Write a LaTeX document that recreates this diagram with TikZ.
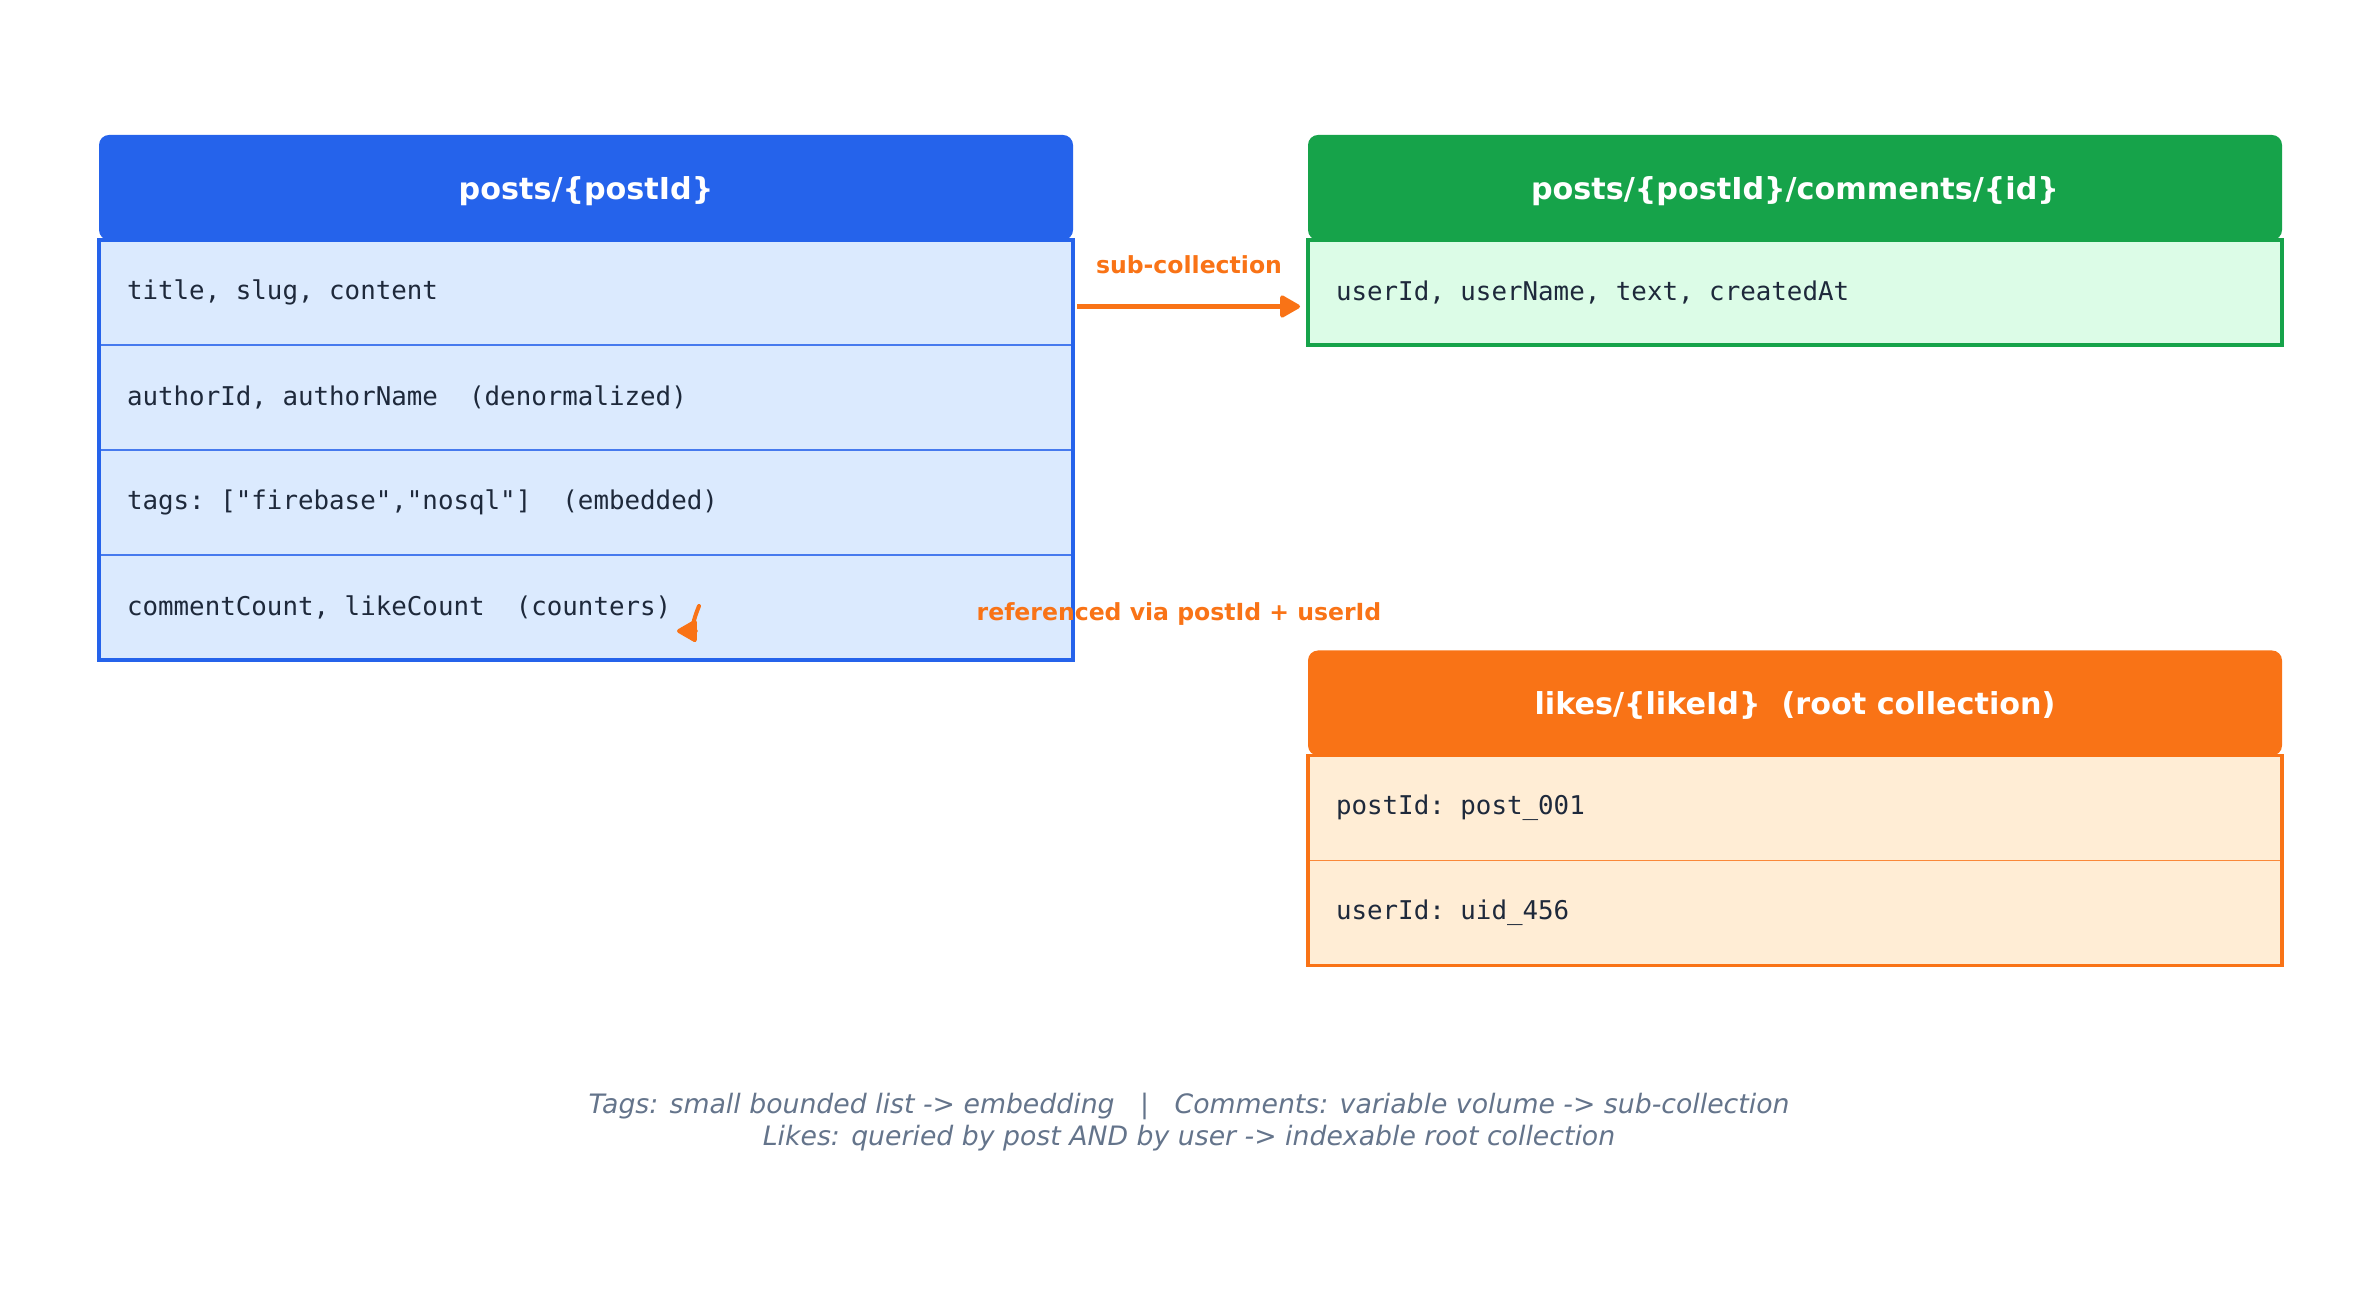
\documentclass[tikz,border=0pt]{standalone}
\usepackage{fontspec}
\setmainfont{DejaVu Sans}
\setmonofont{DejaVu Sans Mono}
\usepackage{tikz}
\usetikzlibrary{positioning,arrows.meta}

\definecolor{blueedge}{HTML}{2563EB}
\definecolor{bluefill}{HTML}{DBEAFE}
\definecolor{greenedge}{HTML}{16A34A}
\definecolor{greenfill}{HTML}{DCFCE7}
\definecolor{orangeedge}{HTML}{F97316}
\definecolor{orangefill}{HTML}{FFEDD5}
\definecolor{ink}{HTML}{1E293B}
\definecolor{note}{HTML}{64748B}

\newcommand\hdrfont{\fontsize{8.6}{10}\selectfont\bfseries}
\newcommand\fieldfont{\fontsize{7.35}{9}\selectfont\ttfamily\frenchspacing\spaceskip=0.602em\relax}
\newcommand\relfont{\fontsize{6.7}{8}\selectfont\bfseries}
\newcommand\notefont{\fontsize{7.6}{8.9}\selectfont\itshape}

\begin{document}
\begin{tikzpicture}[
node distance=0pt,
hdr/.style={rounded corners=0.1cm, minimum width=9.74cm, minimum height=1.05cm, inner sep=0pt, outer sep=0pt, text height=6.8pt, text depth=0pt, text=white, font=\hdrfont},
field/.style={line width=0.45pt, text width=9.18cm, inner xsep=0.28cm, inner ysep=0pt, outer sep=0pt, minimum height=1.05cm, align=flush left, text=ink, font=\fieldfont},
pfield/.style={field, draw=blueedge!85, fill=bluefill},
cfield/.style={field, draw=greenedge!85, fill=greenfill},
lfield/.style={field, draw=orangeedge!85, fill=orangefill},
frame/.style={line width=0.9pt},
rel/.style={draw=orangeedge, line width=1.15pt, -{Triangle[length=0.22cm, width=0.24cm, round]}},
rellabel/.style={text=orangeedge, font=\relfont}
]
\useasboundingbox (0,0) rectangle (23.79,-13);

% posts collection
\node[hdr, fill=blueedge] (posts) at (5.86,-1.875) {posts/\{postId\}};
\node[pfield, below=of posts] (p1) {title, slug, content};
\node[pfield, below=of p1] (p2) {authorId, authorName\ \ (denormalized)};
\node[pfield, below=of p2] (p3) {tags: ["firebase","nosql"]\ \ (embedded)};
\node[pfield, below=of p3] (p4) {commentCount, likeCount\ \ (counters)};
\draw[frame, blueedge] (p1.north west) rectangle (p4.south east);

% comments sub-collection
\node[hdr, fill=greenedge] (comments) at (17.95,-1.875) {posts/\{postId\}/comments/\{id\}};
\node[cfield, below=of comments] (c1) {userId, userName, text, createdAt};
\draw[frame, greenedge] (c1.north west) rectangle (c1.south east);

% likes root collection
\node[hdr, fill=orangeedge] (likes) at (17.95,-7.03) {likes/\{likeId\}\ \ (root collection)};
\node[lfield, below=of likes] (l1) {postId: post\_001};
\node[lfield, below=of l1] (l2) {userId: uid\_456};
\draw[frame, orangeedge] (l1.north west) rectangle (l2.south east);

% relations
\draw[rel] ([xshift=0.04cm, yshift=-0.14cm]p1.east) -- ([xshift=-0.08cm, yshift=-0.14cm]c1.west);
\node[rellabel] (sublabel) at (11.89,-2.65) {sub-collection};
\node[rellabel] (reflabel) at (11.79,-6.14) {referenced via postId + userId};
\coordinate (refstart) at (6.99,-6.06);
\coordinate (refend) at (6.77,-6.31);
\draw[rel, line cap=round] (refstart) to[out=-112, in=0] (refend);

% design notes
\node[text=note, font=\notefont, align=center] (notes) at (11.89,-11.22)
  {Tags: small bounded list -> embedding \ \ |\ \ \ Comments: variable volume -> sub-collection\\
   Likes: queried by post AND by user -> indexable root collection};
\end{tikzpicture}
\end{document}
